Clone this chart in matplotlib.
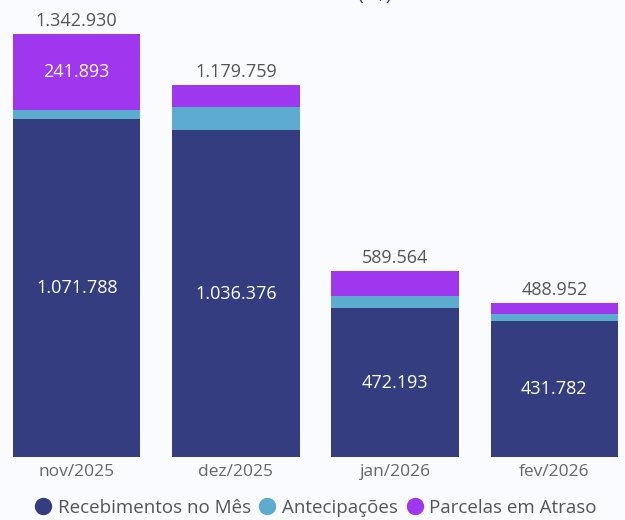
import matplotlib
matplotlib.use("Agg")
import matplotlib.pyplot as plt
from matplotlib.lines import Line2D
import numpy as np

# values
meses = ["nov/2025", "dez/2025", "jan/2026", "fev/2026"]
recebimentos = [1071788, 1036376, 472193, 431782]
antecipacoes = [29249, 74583, 37116, 22233]
atraso = [241893, 68800, 80255, 34937]
totais = [1342930, 1179759, 589564, 488952]

cor_rec = "#343D80"
cor_ant = "#5BACCE"
cor_atr = "#9F37EE"
fundo = "#F9FBFE"

plt.rcParams["font.family"] = ["Open Sans", "DejaVu Sans"]

fig = plt.figure(figsize=(6.25, 5.2), dpi=100, facecolor=fundo)
ax = fig.add_axes([0, 63 / 520, 1, 457 / 520])
ax.set_facecolor(fundo)

x = np.arange(len(meses))
rec = np.array(recebimentos)
ant = np.array(antecipacoes)
atr = np.array(atraso)

ax.bar(x, rec, width=0.8, color=cor_rec)
ax.bar(x, ant, width=0.8, bottom=rec, color=cor_ant)
ax.bar(x, atr, width=0.8, bottom=rec + ant, color=cor_atr)

def fmt(v):
    return f"{v:,}".replace(",", ".")

# labels inside the main segment
for i in range(len(meses)):
    ax.text(x[i], rec[i] / 2, fmt(recebimentos[i]), ha="center", va="center",
            color="white", fontsize=13)
# only the first late-payment segment is big enough for a label
ax.text(x[0], rec[0] + ant[0] + atr[0] / 2, fmt(atraso[0]), ha="center", va="center",
        color="white", fontsize=13)

# totals above the bars
for i in range(len(meses)):
    ax.annotate(fmt(totais[i]), (x[i], totais[i]), xytext=(0, 5.8), textcoords="offset points",
                ha="center", va="baseline", color="#555555", fontsize=13)

ax.set_xlim(-0.4 - 13 / 159.2, 3.4 + 7 / 159.2)
ax.set_ylim(0, 457 * 3172)
ax.set_xticks(x)
ax.set_xticklabels(meses, color="#666666", fontsize=12.5)
ax.tick_params(axis="x", length=0, pad=5)
ax.set_yticks([])
for s in ax.spines.values():
    s.set_visible(False)

# title cut off at the top edge, only the descenders show
fig.text(0.6, 1.0, "(R$)", ha="center", va="baseline", color="#343D80", fontsize=14)

handles = [Line2D([], [], marker="o", linestyle="", markersize=11.5, color=c)
           for c in (cor_rec, cor_ant, cor_atr)]
fig.legend(handles, ["Recebimentos no Mês", "Antecipações", "Parcelas em Atraso"],
           loc="center", bbox_to_anchor=(0.505, 0.024), ncol=3, frameon=False,
           handletextpad=0.33, columnspacing=0.44, handlelength=0.9,
           fontsize=13.5, labelcolor="#555555", borderpad=0, borderaxespad=0)

fig.savefig("out.png", dpi=100, facecolor=fundo)
